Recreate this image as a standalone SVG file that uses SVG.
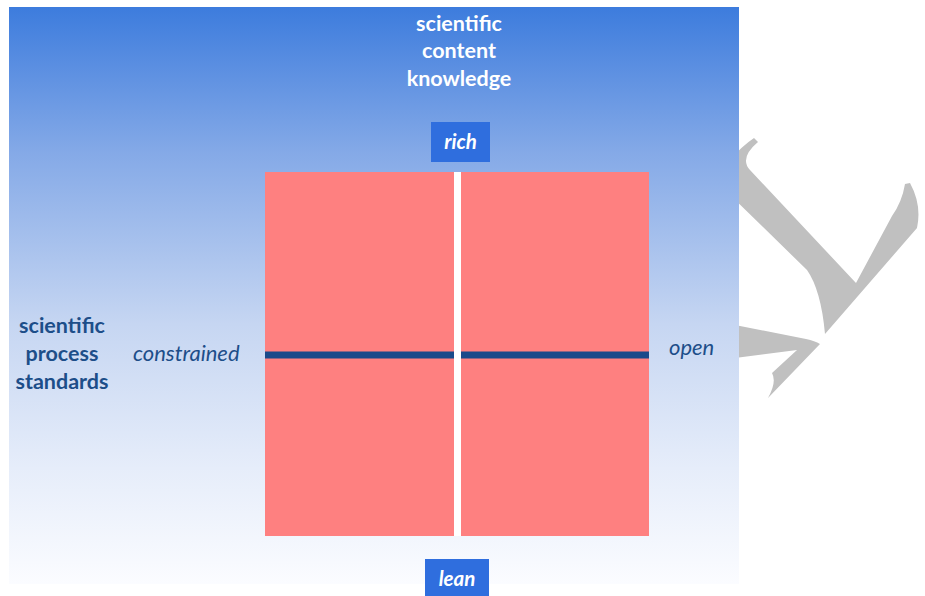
<svg xmlns="http://www.w3.org/2000/svg" width="925" height="596" viewBox="0 0 925 596">
<defs>
<linearGradient id="bg" x1="0" y1="0" x2="0" y2="1">
<stop offset="0" stop-color="#3d7cdd"/>
<stop offset="0.25" stop-color="#84a9e7"/>
<stop offset="0.55" stop-color="#c6d6f2"/>
<stop offset="0.8" stop-color="#e6edfa"/>
<stop offset="1" stop-color="#fbfcff"/>
</linearGradient>
<style>
.wm{fill:#c0c0c0}
.quad{fill:#fe8080}
.tag{fill:#2f6ede}
.bold{font-family:Lato,"Open Sans","Liberation Sans",sans-serif;font-weight:bold;font-size:21.5px;text-anchor:middle}
.white{fill:#ffffff}
.navy{fill:#1d4e89}
.tagtxt{font-family:Lato,"Open Sans","Liberation Sans",sans-serif;font-weight:bold;font-style:italic;font-size:20.5px;fill:#ffffff;text-anchor:middle}
.ital{font-family:Lato,"Open Sans","Liberation Sans",sans-serif;font-style:italic;font-size:22px;fill:#1d4e89}
.axis{stroke:#1a4a8a;stroke-width:7;fill:none}
.divider{stroke:#ffffff;stroke-width:7;fill:none}
</style>
</defs>
<rect width="925" height="596" fill="#ffffff"/>
<g id="watermark">
<path class="wm" d="M725,190 L807,270 Q821,290 825,334 L917,228 Q922,205 910,183 L905,184 Q902,202 892,216 L856,283 L750,170 Q739,158 758,142 L754,138 Q742,146 730,160 Z"/>
<path class="wm" d="M735,325 L806,339 Q815,341 820,344 L768,398 Q777,382 772,373 L797,350 L735,358 Z"/>
</g>
<rect id="background" x="9" y="7" width="730" height="577" fill="url(#bg)"/>
<g id="quadrants">
<rect id="q-left" class="quad" x="265" y="172" width="189" height="364"/>
<rect id="q-right" class="quad" x="461" y="172" width="188" height="364"/>
</g>
<g id="connectors">
<line class="divider" x1="457.5" y1="172" x2="457.5" y2="536"/>
<line class="axis" x1="265" y1="355" x2="454" y2="355"/>
<line class="axis" x1="461" y1="355" x2="649" y2="355"/>
</g>
<g id="title">
<text class="bold white" x="459" y="31">scientific</text>
<text class="bold white" x="459" y="58">content</text>
<text class="bold white" x="459" y="86">knowledge</text>
</g>
<g id="rich">
<rect class="tag" x="431" y="122" width="59" height="40"/>
<text class="tagtxt" x="460.5" y="149">rich</text>
</g>
<g id="lean">
<rect class="tag" x="425" y="559" width="64" height="37"/>
<text class="tagtxt" x="457" y="586">lean</text>
</g>
<g id="process-label">
<text class="bold navy" x="62" y="333">scientific</text>
<text class="bold navy" x="62" y="361">process</text>
<text class="bold navy" x="62" y="389">standards</text>
</g>
<g id="constrained">
<text class="ital" x="133" y="361">constrained</text>
</g>
<g id="open">
<text class="ital" x="669" y="355">open</text>
</g>
</svg>
